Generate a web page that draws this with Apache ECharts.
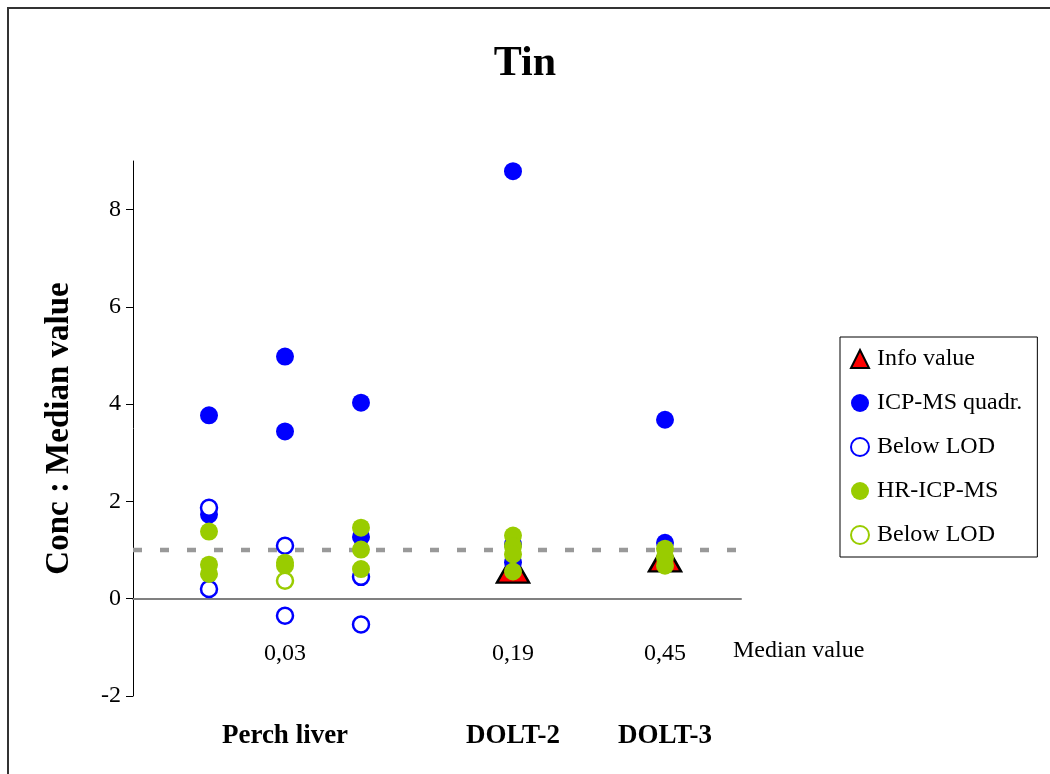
<!DOCTYPE html>
<html>
<head>
<meta charset="utf-8">
<script src="https://cdn.jsdelivr.net/npm/echarts@6/dist/echarts.min.js"></script>
<style>html,body{margin:0;padding:0;background:#fff}#c{width:1050px;height:774px}</style>
</head>
<body>
<div id="c"></div>
<script>
// ---- data ----
const titleText = 'Tin';
const yAxisTitle = 'Conc : Median value';
const yTicks = [-2, 0, 2, 4, 6, 8];
const samplePositions = [2, 5, 7];
const sampleNames = ['Perch liver', 'DOLT-2', 'DOLT-3'];
const medianLabels = ['0,03', '0,19', '0,45'];
const medianAxisName = 'Median value';
const seriesNames = ['Info value', 'ICP-MS quadr.', 'Below LOD', 'HR-ICP-MS', 'Below LOD '];

const infoValue = [[5, 0.62], [7, 0.85]];
const icpQuadr = [[1, 3.77], [1, 1.73], [2, 4.98], [2, 3.44], [3, 4.03], [3, 1.27],
                  [5, 8.79], [5, 1.12], [5, 0.75], [7, 3.68], [7, 1.15]];
const icpBelowLod = [[1, 1.87], [1, 0.20], [2, 1.09], [2, -0.35], [3, 0.45], [3, -0.53]];
const hrIcpMs = [[1, 1.38], [1, 0.70], [1, 0.51], [2, 0.74], [2, 0.68], [3, 1.46], [3, 1.01], [3, 0.61],
                 [5, 1.30], [5, 1.08], [5, 0.91], [5, 0.56], [7, 1.03], [7, 0.85], [7, 0.68]];
const hrBelowLod = [[2, 0.37]];
const refLineX = [0, 8];
const refLineY = [1, 1];

// ---- chart ----
const FONT = '"Liberation Serif", "Times New Roman", serif';
const BLUE = '#0000FF', GREEN = '#99CC00';
const chart = echarts.init(document.getElementById('c'), null, {renderer: 'canvas'});
const lbl = v => { const i = samplePositions.indexOf(v); return i >= 0 ? medianLabels[i] : ''; };
const nm = v => { const i = samplePositions.indexOf(v); return i >= 0 ? sampleNames[i] : ''; };

chart.setOption({
  backgroundColor: '#fff',
  animation: false,
  title: {
    text: titleText, left: 'center', top: 38,
    textStyle: {fontFamily: FONT, fontSize: 42, fontWeight: 'bold', color: '#000'}
  },
  graphic: [{
    type: 'rect', silent: true,
    shape: {x: 8, y: 8, width: 1100, height: 800},
    style: {fill: 'none', stroke: '#333', lineWidth: 2}
  }],
  grid: {left: 133, right: 309, top: 161, bottom: 78, containLabel: false},
  legend: {
    orient: 'vertical', left: 840, top: 337,
    padding: [9, 15, 9, 10],
    backgroundColor: '#fff',
    borderColor: '#000', borderWidth: 1,
    itemWidth: 18, itemHeight: 18, itemGap: 18,
    textStyle: {fontFamily: FONT, fontSize: 24, color: '#000', lineHeight: 26, padding: [0, 0, 0, 3]},
    data: seriesNames
  },
  xAxis: [{
    type: 'value', min: 0, max: 8,
    axisLine: {onZero: true, lineStyle: {color: '#808080', width: 2}},
    axisTick: {show: false},
    splitLine: {show: false},
    axisLabel: {
      customValues: samplePositions, formatter: lbl, margin: -54,
      fontFamily: FONT, fontSize: 24, color: '#000'
    },
    name: medianAxisName, nameLocation: 'end', nameGap: -8,
    nameTextStyle: {fontFamily: FONT, fontSize: 24, color: '#000', verticalAlign: 'top', lineHeight: 104}
  }, {
    type: 'value', min: 0, max: 8, position: 'bottom',
    axisLine: {show: false, onZero: false},
    axisTick: {show: false},
    splitLine: {show: false},
    axisLabel: {
      customValues: samplePositions, formatter: nm, margin: 27,
      fontFamily: FONT, fontSize: 27, fontWeight: 'bold', color: '#000'
    }
  }],
  yAxis: {
    type: 'value', min: -2, max: 9,
    axisLine: {show: true, lineStyle: {color: '#000', width: 1}},
    axisTick: {show: true, inside: false, length: 7, customValues: yTicks, lineStyle: {color: '#000'}},
    splitLine: {show: false},
    axisLabel: {customValues: yTicks, margin: 12, fontFamily: FONT, fontSize: 24, color: '#000'},
    name: yAxisTitle, nameLocation: 'middle', nameGap: 57, nameRotate: 90,
    nameTextStyle: {fontFamily: FONT, fontSize: 33, fontWeight: 'bold', color: '#000'}
  },
  series: [
    {
      type: 'line', name: 'ref', data: refLineX.map((x, i) => [x, refLineY[i]]),
      symbol: 'none', silent: true, z: 1,
      lineStyle: {color: '#999999', width: 4.5, type: [9, 18]}
    },
    {
      type: 'scatter', name: seriesNames[0], data: infoValue, z: 2,
      symbol: 'triangle', symbolSize: [32, 28],
      itemStyle: {color: '#FF0000', borderColor: '#000', borderWidth: 2.5, opacity: 1}
    },
    {
      type: 'scatter', name: seriesNames[1], data: icpQuadr, z: 3,
      symbol: 'circle', symbolSize: 18,
      itemStyle: {color: BLUE, opacity: 1}
    },
    {
      type: 'scatter', name: seriesNames[2], data: icpBelowLod, z: 4,
      symbol: 'circle', symbolSize: 16,
      itemStyle: {color: '#fff', borderColor: BLUE, borderWidth: 2.5, opacity: 1}
    },
    {
      type: 'scatter', name: seriesNames[3], data: hrIcpMs, z: 5,
      symbol: 'circle', symbolSize: 18,
      itemStyle: {color: GREEN, opacity: 1}
    },
    {
      type: 'scatter', name: seriesNames[4], data: hrBelowLod, z: 6,
      symbol: 'circle', symbolSize: 16,
      itemStyle: {color: '#fff', borderColor: GREEN, borderWidth: 2.5, opacity: 1}
    }
  ]
});
</script>
</body>
</html>
